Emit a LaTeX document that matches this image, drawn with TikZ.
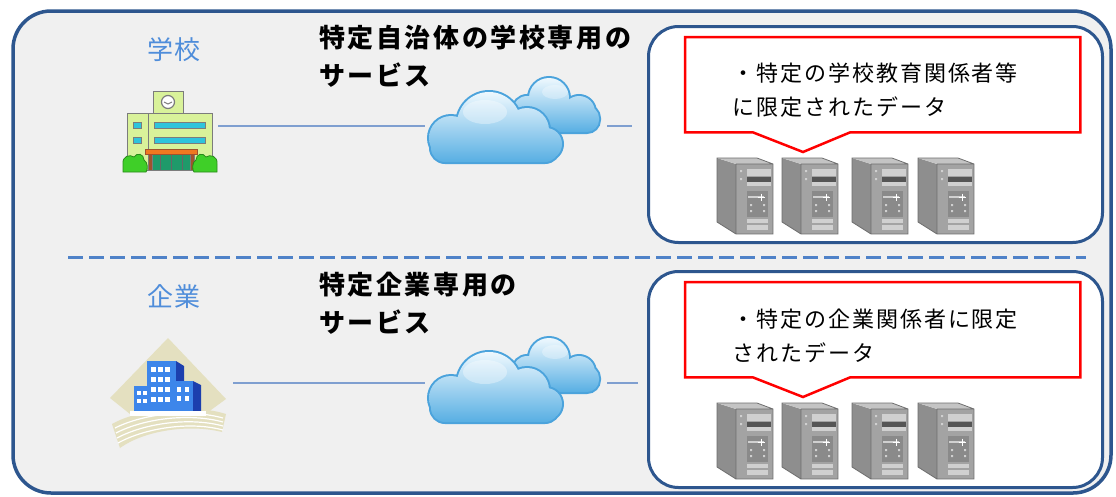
\documentclass[tikz,border=0pt]{standalone}
\usepackage{fontspec}
\usetikzlibrary{calc}
\newfontfamily\jptitle[LetterSpace=10]{Noto Sans CJK JP}
\newfontfamily\jpnote[LetterSpace=9]{Noto Sans CJK JP}
\newfontfamily\jplabel[LetterSpace=4]{Noto Sans CJK JP}

\definecolor{frameblue}{HTML}{2D568E}
\definecolor{panelgray}{HTML}{F0F0F0}
\definecolor{dashblue}{HTML}{4F82C8}
\definecolor{linkblue}{HTML}{7F9FD0}
\definecolor{labelblue}{HTML}{4F8DDA}
\definecolor{cloudedge}{HTML}{4BA3DC}
\definecolor{cloudtop}{HTML}{EEF8FE}
\definecolor{cloudmid}{HTML}{BFE3F6}
\definecolor{cloudbot}{HTML}{58AFE3}
\definecolor{srvside}{HTML}{8E8E8E}
\definecolor{srvtop}{HTML}{C4C4C4}
\definecolor{srvfront}{HTML}{A3A3A3}
\definecolor{srvedge}{HTML}{6E6E6E}
\definecolor{srvpanel}{HTML}{D0D0D0}
\definecolor{srvslot}{HTML}{555555}
\definecolor{srvlow}{HTML}{8A8A8A}
\definecolor{schoolwall}{HTML}{D9F29A}
\definecolor{schoolline}{HTML}{7C7C7C}
\definecolor{schoolwin}{HTML}{2EC4DC}
\definecolor{schoolroof}{HTML}{F07820}
\definecolor{schooldoor}{HTML}{1F9A6A}
\definecolor{schoolpost}{HTML}{A0522D}
\definecolor{bush}{HTML}{3FCF28}
\definecolor{bushline}{HTML}{2A8A1A}
\definecolor{beige}{HTML}{E4E0C0}
\definecolor{bldblue}{HTML}{3D86EA}
\definecolor{blddark}{HTML}{1C3FAE}

\tikzset{
  panel/.style={draw=frameblue, line width=3.5pt, fill=panelgray, rounded corners=38pt},
  databox/.style={draw=frameblue, line width=3pt, fill=white, rounded corners=30pt,
    minimum width=454pt, minimum height=216pt, inner sep=0pt, anchor=north west},
  divider/.style={draw=dashblue, line width=3pt, dash pattern=on 15pt off 6pt},
  link/.style={draw=linkblue, line width=2pt},
  callframe/.style={minimum width=395pt, minimum height=95pt, inner sep=0pt, anchor=north west},
  callout/.style={draw=red, line width=2.5pt, fill=white, line join=miter},
  titletext/.style={inner sep=0pt, anchor=north west, align=left,
    font=\jptitle\bfseries\fontsize{26pt}{38pt}\selectfont},
  notetext/.style={inner sep=0pt, anchor=north west, align=left,
    font=\jpnote\fontsize{22pt}{34pt}\selectfont},
  labeltext/.style={inner sep=0pt, anchor=north west, text=labelblue,
    font=\jplabel\fontsize{26pt}{30pt}\selectfont},
  spot/.style={inner sep=0pt},
  pics/server/.style={code={
    \fill[srvside] (0,0) -- (19,6) -- (19,76) -- (0,64) -- cycle;
    \fill[srvtop] (0,0) -- (40,0) -- (56,6) -- (19,6) -- cycle;
    \fill[srvfront] (19,6) rectangle (56,76);
    \draw[srvedge, line width=0.8pt] (0,0) -- (40,0) -- (56,6) -- (56,76) -- (19,76) -- (0,64) -- cycle
      (19,6) -- (19,76) (19,6) -- (56,6);
    \fill[srvpanel] (30,11) rectangle (54,18);
    \fill[srvslot] (30,19) rectangle (54,24);
    \fill[srvpanel] (30,24) rectangle (54,28);
    \fill[srvpanel] (23,12) rectangle (25,14) (23,20) rectangle (25,22);
    \fill[srvlow] (30,33) rectangle (51,59);
    \draw[srvpanel, line width=1.5pt] (31,39) -- (47,39);
    \draw[white, line width=1pt] (44,35.5) -- (44,42.5) (40.5,39) -- (47.5,39);
    \fill[srvpanel] (33,46) rectangle (35,48) (33,52) rectangle (35,54)
      (46,46) rectangle (48,48) (46,52) rectangle (48,54);
    \fill[srvpanel] (30,61) rectangle (51,65);
    \fill[srvpanel] (30,67) rectangle (51,72);
  }},
  pics/cloudpair/.style={code={
    % rear cloud
    \shade[preaction={draw=cloudedge, line width=4pt},
      top color=cloudtop, middle color=cloudmid, bottom color=cloudbot]
      (122,6) circle (20pt) (152,20) circle (16pt) (160,30) circle (10pt)
      (100,18) circle (14pt)
      [rounded corners=12pt] (88,14) rectangle (172,40);
    % front cloud
    \shade[preaction={draw=cloudedge, line width=4pt},
      top color=cloudtop, middle color=cloudmid, bottom color=cloudbot]
      (24,46) circle (22pt) (62,32) circle (32pt) (100,38) circle (22pt)
      (119,52) circle (16pt)
      [rounded corners=14pt] (4,40) rectangle (132,70);
    \fill[white, opacity=0.35] (58,20) ellipse (22pt and 12pt);
    \fill[white, opacity=0.3] (128,0) ellipse (13pt and 7pt);
  }}
}

\begin{document}
\begin{tikzpicture}[x=1pt, y=-1pt]
  \useasboundingbox (0,0) rectangle (1116,496);

  % outer panel and separator
  \draw[panel] (13,11) rectangle (1111,493);
  \draw[divider] (68,257) -- (1086,257);

  % ---------- school row ----------
  \node[labeltext] (labelA) at (147,37) {学校};
  \node[titletext] (titleA) at (319,25) {特定自治体の学校専用の\\サービス};

  % school building
  \begin{scope}[shift={(122,90)}, draw=schoolline, line width=0.8pt]
    \filldraw[fill=schoolwall] (31,1) rectangle (61,24);
    \filldraw[fill=white, line width=1.2pt] (46,12) circle (6.5pt);
    \draw[line width=1pt] (42,12) -- (46,14) -- (50,12);
    \filldraw[fill=schoolwall] (5,23) rectangle (90,80);
    \draw (26,23) -- (26,60);
    \filldraw[fill=schoolwin] (11,32) rectangle (19,38) (11,47) rectangle (19,53);
    \filldraw[fill=schoolwin] (32,32) rectangle (83,38) (32,47) rectangle (83,53);
    \filldraw[fill=schooldoor] (26,64) rectangle (72,80);
    \draw[draw=black!60] (38,64) -- (38,80) (49,64) -- (49,80) (60,64) -- (60,80);
    \filldraw[fill=schoolpost] (26,64) rectangle (30,80) (68,64) rectangle (72,80);
    \filldraw[fill=schoolroof, draw=schoolpost] (23,59) rectangle (75,64);
    \filldraw[fill=bush, draw=bushline] (1,82) -- (1,74) .. controls (0,66) and (8,64) .. (12,67)
      .. controls (15,62) and (22,64) .. (22,70) .. controls (26,72) and (26,80) .. (24,82) -- cycle;
    \filldraw[fill=bush, draw=bushline] (95,82) -- (95,74) .. controls (96,66) and (88,64) .. (84,67)
      .. controls (81,62) and (74,64) .. (74,70) .. controls (70,72) and (70,80) .. (72,82) -- cycle;
  \end{scope}
  \node[spot, minimum width=96pt, minimum height=72pt] (school) at (170,126) {};

  % cloud service
  \pic at (427,92) {cloudpair};
  \node[spot, minimum width=182pt, minimum height=70pt] (cloudA) at (516,126) {};
  \coordinate (endA) at (632,126);
  \draw[link] (school.east) -- (cloudA.west);
  \draw[link] (cloudA.east) -- (endA);

  % data store
  \node[databox] (storeA) at (647,25) {};
  \node[callframe] (calloutA) at (685,37) {};
  \coordinate (tipA) at (803,152);
  \draw[callout] (calloutA.north west) -- (calloutA.north east) -- (calloutA.south east)
    -- ($(calloutA.south west)+(165,0)$) -- (tipA) -- ($(calloutA.south west)+(68,0)$)
    -- (calloutA.south west) -- cycle;
  \node[notetext] (noteA) at (732,63) {・特定の学校教育関係者等\\に限定されたデータ};
  \foreach \sx in {717,782,852,918} \pic at (\sx,158) {server};

  % ---------- company row ----------
  \node[labeltext] (labelB) at (147,284) {企業};
  \node[titletext] (titleB) at (319,272) {特定企業専用の\\サービス};

  % office buildings
  \fill[beige] (168,338) -- (226,399) -- (200,418) -- (135,418) -- (110,398) -- cycle;
  \fill[beige] (112,424) .. controls (140,408) and (195,404) .. (226,414) -- (222,432)
    .. controls (190,424) and (145,430) .. (120,448) -- cycle;
  \foreach \k in {0,1,2,3}
    \draw[white, line width=1.2pt] (115+\k,428+5*\k) .. controls (145,413+5*\k) and (190,409+4*\k) .. (223,418+4*\k);
  \fill[blddark] (176,361) -- (184,366) -- (184,412) -- (176,412) -- cycle;
  \fill[bldblue] (147,361) rectangle (176,412);
  \fill[bldblue] (134,386) rectangle (149,412);
  \fill[blddark] (193,381) -- (201,385) -- (201,412) -- (193,412) -- cycle;
  \fill[bldblue] (173,381) rectangle (193,412);
  \foreach \wx in {151,158,165} \foreach \wy in {367,377,387,397}
    \fill[white] (\wx,\wy) rectangle ++(5,5);
  \foreach \wx in {137,143} \foreach \wy in {391,399}
    \fill[white] (\wx,\wy) rectangle ++(4,4);
  \foreach \wx in {177,185} \foreach \wy in {387,396}
    \fill[white] (\wx,\wy) rectangle ++(4,5);
  \fill[white] (130,411) rectangle (206,416);
  \node[spot, minimum width=125pt, minimum height=110pt] (office) at (170.5,383) {};

  \pic at (427,352) {cloudpair};
  \node[spot, minimum width=182pt, minimum height=70pt] (cloudB) at (516,383) {};
  \coordinate (endB) at (638,383);
  \draw[link] (office.east) -- (cloudB.west);
  \draw[link] (cloudB.east) -- (endB);

  \node[databox] (storeB) at (647,270) {};
  \node[callframe] (calloutB) at (685,282) {};
  \coordinate (tipB) at (803,397);
  \draw[callout] (calloutB.north west) -- (calloutB.north east) -- (calloutB.south east)
    -- ($(calloutB.south west)+(165,0)$) -- (tipB) -- ($(calloutB.south west)+(68,0)$)
    -- (calloutB.south west) -- cycle;
  \node[notetext] (noteB) at (732,309) {・特定の企業関係者に限定\\されたデータ};
  \foreach \sx in {717,782,852,918} \pic at (\sx,403) {server};
\end{tikzpicture}
\end{document}
